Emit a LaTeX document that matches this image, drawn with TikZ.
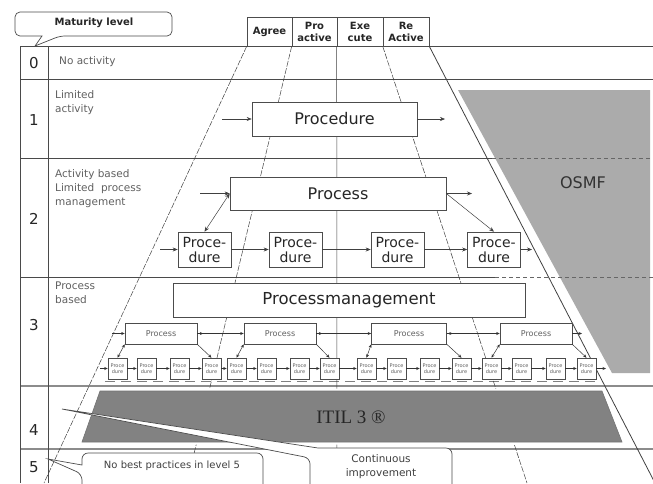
\documentclass[tikz,border=0pt]{standalone}
\usepackage{fontspec}
\setmainfont{DejaVu Sans}
\newfontfamily\itilfont{Liberation Serif}
\usetikzlibrary{arrows.meta,decorations.markings}
\definecolor{ln}{HTML}{4A4A4A}
\definecolor{osmf}{HTML}{ABABAB}
\definecolor{itil}{HTML}{828282}
\definecolor{txt}{HTML}{606060}
\begin{document}
\begin{tikzpicture}[x=1pt,y=-1pt,
  grid/.style={draw=ln, line width=0.8pt},
  thickrow/.style={draw=black!45, line width=1.6pt},
  div/.style={draw=black!75, line width=0.5pt},
  divd/.style={div, dash pattern=on 6pt off 1.5pt},
  box/.style={draw=black!70, fill=white, line width=0.6pt, inner sep=0pt, align=center, text=black!85},
  hdr/.style={box, minimum width=45pt, minimum height=29pt, font=\fontsize{10}{12}\selectfont\bfseries},
  bigbox/.style={box, minimum height=34pt, font=\fontsize{16}{19}\selectfont},
  pdbox/.style={box, minimum width=53pt, minimum height=35pt, font=\fontsize{14}{15}\selectfont},
  pbox/.style={box, minimum width=72pt, minimum height=21pt, font=\fontsize{8}{9}\selectfont, text=txt},
  mini/.style={box, minimum width=19pt, minimum height=21pt, font=\fontsize{5}{5.5}\selectfont, text=txt},
  arr/.style={-{Stealth[length=5pt,width=4pt]}, draw=black!75, line width=0.5pt},
  darr/.style={{Stealth[length=5pt,width=4pt]}-{Stealth[length=5pt,width=4pt]}, draw=black!75, line width=0.5pt},
  sarr/.style={-{Stealth[length=3.5pt,width=3pt]}, draw=black!80, line width=0.5pt},
  sdarr/.style={{Stealth[length=3.5pt,width=3pt]}-{Stealth[length=3.5pt,width=3pt]}, draw=black!80, line width=0.5pt},
  midtip/.style={postaction={decorate}, decoration={markings, mark=at position 6pt with {\arrow{Stealth[length=3.5pt,width=3pt]}}}},
  num/.style={font=\fontsize{15}{18}\selectfont, text=black!85},
  lbl/.style={anchor=north west, align=left, inner sep=0pt, font=\fontsize{10.5}{14}\selectfont, text=txt},
  callout/.style={draw=black!70, fill=white, line width=0.7pt},
]
\useasboundingbox (0,0) rectangle (653,483);

% OSMF area
\fill[osmf] (458,90) -- (650,90) -- (650,373) -- (612,373) -- cycle;
\node[font=\fontsize{16}{19}\selectfont, text=black!80] (osmf) at (583,183) {OSMF};

% table grid
\draw[grid] (20,46) -- (653,46);
\draw[grid] (20,79) -- (653,79);
\draw[grid] (20,158) -- (492,158);
\draw[grid] (20,277) -- (495,277);
\draw[draw=black!60, line width=0.7pt, dash pattern=on 4pt off 3pt] (492,158) -- (653,158);
\draw[draw=black!60, line width=0.7pt, dash pattern=on 4pt off 3pt] (495,277) -- (653,277);
\draw[draw=black!50, line width=0.7pt, dash pattern=on 10pt off 6pt] (105,381) -- (600,381);
\draw[thickrow] (20,386) -- (653,386);
\draw[thickrow] (20,449) -- (653,449);
\draw[grid] (20,46) -- (20,483);
\draw[grid] (48,46) -- (48,483);

% column headers
\node[hdr] (h1) at (269.5,31.5) {Agree};
\node[hdr] (h2) at (314.5,31.5) {Pro\\active};
\node[hdr, minimum width=46pt] (h3) at (360,31.5) {Exe\\cute};
\node[hdr, minimum width=46pt] (h4) at (406,31.5) {Re\\Active};

% diverging lines
\coordinate (b1) at (44,483);
\coordinate (b2) at (187,483);
\coordinate (b3) at (337,483);
\coordinate (b4) at (527,483);
\coordinate (b5) at (655,483);
\draw[divd] (h1.south west) -- (b1);
\draw[divd] (h2.south west) -- (b2);
\draw[div] (h3.south west) -- (b3);
\draw[divd] (h4.south west) -- (b4);
\draw[div, line width=0.8pt] (h4.south east) -- (b5);

% level numbers
\node[num] (n0) at (34,63) {0};
\node[num] (n1) at (34,120) {1};
\node[num] (n2) at (34,219) {2};
\node[num] (n3) at (34,325) {3};
\node[num] (n4) at (34,430) {4};
\node[num] (n5) at (34,467) {5};

% level descriptions
\node[lbl, anchor=west] (t0) at (59,62) {No activity};
\node[lbl] (t1) at (55,90) {Limited\\activity};
\node[lbl] (t2) at (55,169) {Activity based\\Limited~~process\\management};
\node[lbl] (t3) at (55,282) {Process\\based};

% level 1
\node[bigbox, minimum width=165pt] (proc1) at (334.5,119) {Procedure};
\coordinate (in1) at (222,119);
\coordinate (out1) at (445,119);
\draw[arr] (in1) -- (proc1.west);
\draw[arr] (proc1.east) -- (out1);

% level 2
\node[bigbox, minimum width=216pt, minimum height=33pt] (proc2) at (338,193.5) {Process};
\node[pdbox] (q1) at (204.5,249.5) {Proce-\\dure};
\node[pdbox] (q2) at (295.5,249.5) {Proce-\\dure};
\node[pdbox] (q3) at (397.5,249.5) {Proce-\\dure};
\node[pdbox] (q4) at (494,249.5) {Proce-\\dure};
\coordinate (in2a) at (200,193.5);
\coordinate (out2a) at (472,193.5);
\coordinate (in2) at (160,249.5);
\coordinate (out2) at (532,249.5);
\draw[arr] (in2a) -- (proc2.west);
\draw[arr] (proc2.east) -- (out2a);
\draw[darr] (proc2.west) -- (q1.north);
\draw[arr] (proc2.east) -- (q4.north);
\draw[arr] (in2) -- (q1);
\draw[arr] (q1) -- (q2);
\draw[arr] (q2) -- (q3);
\draw[arr] (q3) -- (q4);
\draw[arr] (q4) -- (out2);

% level 3
\node[bigbox, minimum width=352pt, font=\fontsize{16.5}{19}\selectfont] (pm) at (349,300) {Processmanagement};
\node[pbox] (pa) at (161,333.5) {Process};
\node[pbox] (pb) at (280,333.5) {Process};
\node[pbox, minimum width=75pt] (pc) at (409,333.5) {Process};
\node[pbox] (pd) at (536,333.5) {Process};
\foreach \x [count=\i] in {117.5,146.5,179.5,211.5,236.5,266.5,299.5,329.5,366.5,396.5,429.5,461.5,491.5,521.5,555.5,586.5}
  \node[mini] (m\i) at (\x,368.5) {Proce\\dure};
\coordinate (in3) at (100,368.5);
\coordinate (out3) at (606,368.5);
\coordinate (in3a) at (112,333.5);
\coordinate (out3a) at (582,333.5);
\draw[sarr] (in3) -- (m1);
\foreach \i [evaluate=\i as \j using int(\i+1)] in {1,...,15}
  \draw[sarr] (m\i) -- (m\j);
\draw[sarr] (m16) -- (out3);
\draw[sarr] (in3a) -- (pa.west);
\draw[sarr, midtip] (pa.east) -- (pb.west);
\draw[sarr, midtip] (pb.east) -- (pc.west);
\draw[sarr, midtip] (pc.east) -- (pd.west);
\draw[sarr] (pd.east) -- (out3a);
\draw[sdarr] (pa.south west) -- (m1.north);
\draw[sarr] (pa.south east) -- (m4.north);
\draw[sdarr] (pb.south west) -- (m5.north);
\draw[sarr] (pb.south east) -- (m8.north);
\draw[sdarr] (pc.south west) -- (m9.north);
\draw[sarr] (pc.south east) -- (m12.north);
\draw[sdarr] (pd.south west) -- (m13.north);
\draw[sarr] (pd.south east) -- (m16.north);

% level 4 ITIL
\draw[white, line width=5pt, line join=miter] (100,391) -- (602,391) -- (622,442) -- (82,442) -- cycle;
\draw[draw=black!55, fill=itil, line width=0.6pt] (100,391) -- (602,391) -- (622,442) -- (82,442) -- cycle;
\node[font=\itilfont\fontsize{19}{22}\selectfont, text=black!85] (itil) at (351,417) {ITIL 3 ®};

% callouts
\draw[callout, rounded corners=5pt] (90,12) -- (172,12) -- (172,36) -- (60,36) [sharp corners] -- (35,46) -- (42,36) [rounded corners=5pt] -- (15,36) -- (15,12) -- cycle;
\node[font=\fontsize{10}{12}\selectfont\bfseries, text=black!85] (ml) at (94,23) {Maturity level};

\draw[callout] (62,409) -- (318,448) [rounded corners=6pt] -- (452,448) -- (452,500) -- (310,500) -- (310,458) [sharp corners] -- cycle;
\node[align=center, font=\fontsize{10.5}{14}\selectfont, text=black!75] (ci) at (381,467) {Continuous\\improvement};

\draw[callout] (48,459) -- (82,465) [rounded corners=6pt] -- (82,453) -- (263,453) -- (263,500) -- (82,500) -- (82,474) [sharp corners] -- cycle;
\node[font=\fontsize{10}{12}\selectfont, text=black!75] (nb) at (172,466) {No best practices in level 5};
\end{tikzpicture}
\end{document}
